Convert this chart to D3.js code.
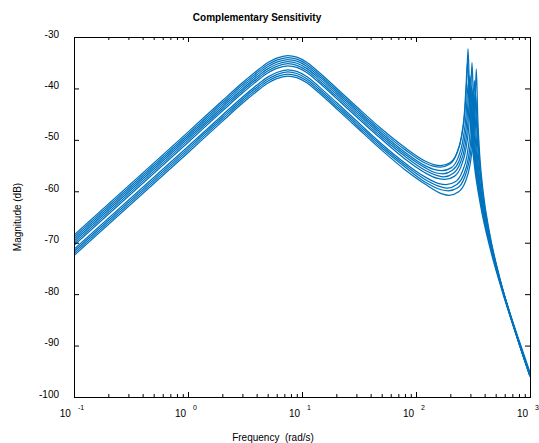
<!DOCTYPE html>
<html>
<head>
<meta charset="utf-8">
<script src="https://cdn.jsdelivr.net/npm/d3@7"></script>
<style>
  html, body { margin: 0; padding: 0; background: #fff; }
  svg { display: block; }
  text { font-family: "Liberation Sans", Arial, Helvetica, sans-serif; fill: #000; }
</style>
</head>
<body>
<svg id="chart" width="539" height="443"></svg>
<script>
// ---------------- data ----------------
const titleText = "Complementary Sensitivity";
const xLabelText = "Frequency  (rad/s)";
const yLabelText = "Magnitude (dB)";

const xMajorTicks = [0.1, 1, 10, 100, 1000];
const xTickExponents = ["-1", "0", "1", "2", "3"];
const yTicks = [-100, -90, -80, -70, -60, -50, -40, -30];

// shared low-frequency grid (rad/s)
const lowFreqs = [0.1, 1, 2, 3, 4, 5, 6, 7.5, 9, 11, 14, 20, 30, 50, 80, 120];

// magnitudes (dB) on lowFreqs, one array per response
const lowMag1  = [-68.5, -48.5, -42.4, -38.9, -36.6, -35.0, -34.1, -33.6, -33.9, -34.9, -36.8, -39.9, -43.5, -47.9, -51.5, -54.1];
const lowMag2  = [-68.9, -48.9, -42.8, -39.3, -37.0, -35.4, -34.5, -34.0, -34.3, -35.3, -37.2, -40.3, -43.9, -48.3, -51.9, -54.5];
const lowMag3  = [-69.3, -49.3, -43.2, -39.7, -37.4, -35.8, -34.9, -34.4, -34.7, -35.7, -37.6, -40.7, -44.3, -48.7, -52.4, -55.0];
const lowMag4  = [-69.7, -49.7, -43.6, -40.1, -37.8, -36.2, -35.3, -34.8, -35.1, -36.1, -38.0, -41.1, -44.7, -49.1, -52.8, -55.4];
const lowMag5  = [-70.1, -50.1, -44.0, -40.5, -38.2, -36.6, -35.7, -35.2, -35.5, -36.5, -38.4, -41.5, -45.1, -49.5, -53.2, -55.9];
const lowMag6  = [-70.5, -50.5, -44.4, -40.9, -38.6, -37.0, -36.1, -35.6, -35.9, -36.9, -38.8, -41.9, -45.5, -49.9, -53.7, -56.4];
const lowMag7  = [-71.3, -51.3, -45.2, -41.7, -39.4, -37.8, -36.9, -36.4, -36.7, -37.7, -39.6, -42.7, -46.3, -50.8, -54.5, -57.2];
const lowMag8  = [-71.7, -51.7, -45.6, -42.1, -39.8, -38.2, -37.3, -36.8, -37.1, -38.1, -40.0, -43.1, -46.7, -51.2, -54.9, -57.7];
const lowMag9  = [-72.1, -52.1, -46.0, -42.5, -40.2, -38.6, -37.7, -37.2, -37.5, -38.5, -40.4, -43.5, -47.1, -51.6, -55.3, -58.2];
const lowMag10 = [-72.5, -52.5, -46.4, -42.9, -40.6, -39.0, -38.1, -37.6, -37.9, -38.9, -40.8, -43.9, -47.5, -52.0, -55.8, -58.6];

// high-frequency (dip + resonance + roll-off) points, per response
const resFreq1  = [143, 165, 200.2, 228.8, 251.7, 268.8, 277.4, 286, 294.6, 306, 328.9, 371.8, 457.6, 572, 800, 1000];
const resMag1   = [-54.8, -55.0, -54.4, -52.5, -49.3, -44.4, -39.4, -32.3, -40.3, -47.3, -54.7, -62.4, -71.3, -78.9, -88.9, -95.2];
const resFreq2  = [141.5, 163.3, 198.1, 226.4, 249, 266, 274.5, 283, 291.5, 302.8, 325.5, 367.9, 452.8, 566, 800, 1000];
const resMag2   = [-55.1, -55.3, -54.7, -52.8, -49.6, -44.7, -39.7, -34.9, -40.6, -47.6, -55.0, -62.7, -71.6, -79.2, -89.5, -95.8];
const resFreq3  = [146, 168.5, 204.4, 233.6, 257, 274.5, 283.2, 292, 300.8, 312.4, 335.8, 379.6, 467.2, 584, 800, 1000];
const resMag3   = [-55.8, -56.0, -55.4, -53.5, -50.3, -45.3, -40.4, -38.5, -41.3, -48.3, -55.7, -63.4, -72.2, -79.9, -89.3, -95.6];
const resFreq4  = [149, 172, 208.6, 238.4, 262.2, 280.1, 289.1, 298, 306.9, 318.9, 342.7, 387.4, 476.8, 596, 800, 1000];
const resMag4   = [-56.4, -56.6, -55.9, -54.1, -50.9, -45.9, -41.0, -37.5, -41.8, -48.9, -56.3, -63.9, -72.8, -80.4, -89.3, -95.6];
const resFreq5  = [152, 175.4, 212.8, 243.2, 267.5, 285.8, 294.9, 304, 313.1, 325.3, 349.6, 395.2, 486.4, 608, 800, 1000];
const resMag5   = [-56.9, -57.2, -56.5, -54.6, -51.5, -46.5, -41.6, -39.5, -42.4, -49.5, -56.8, -64.5, -73.4, -81.0, -89.3, -95.6];
const resFreq6  = [155, 178.9, 217, 248, 272.8, 291.4, 300.7, 310, 319.3, 331.7, 356.5, 403, 496, 620, 800, 1000];
const resMag6   = [-57.5, -57.7, -57.1, -55.2, -52.0, -47.1, -42.1, -35.0, -43.0, -50.0, -57.4, -65.1, -74.0, -81.6, -89.3, -95.7];
const resFreq7  = [159, 183.5, 222.6, 254.4, 279.8, 298.9, 308.5, 318, 327.5, 340.3, 365.7, 413.4, 508.8, 636, 800, 1000];
const resMag7   = [-58.5, -58.7, -58.1, -56.2, -53.1, -48.1, -43.2, -40.0, -44.0, -51.1, -58.4, -66.1, -75.0, -82.6, -89.6, -96.0];
const resFreq8  = [163, 188.1, 228.2, 260.8, 286.9, 306.4, 316.2, 326, 335.8, 348.8, 374.9, 423.8, 521.6, 652, 800, 1000];
const resMag8   = [-59.1, -59.4, -58.7, -56.9, -53.7, -48.7, -43.8, -38.5, -44.6, -51.7, -59.0, -66.7, -75.6, -83.2, -89.5, -95.9];
const resFreq9  = [166, 191.6, 232.4, 265.6, 292.2, 312.1, 322, 332, 342, 355.2, 381.8, 431.6, 531.2, 664, 800, 1000];
const resMag9   = [-59.7, -59.9, -59.3, -57.4, -54.2, -49.3, -44.3, -41.0, -45.2, -52.2, -59.6, -67.3, -76.2, -83.8, -89.5, -95.9];
const resFreq10 = [169, 195, 236.6, 270.4, 297.4, 317.7, 327.9, 338, 348.1, 361.7, 388.7, 439.4, 540.8, 676, 800, 1000];
const resMag10  = [-60.5, -60.8, -60.1, -58.2, -54.9, -49.8, -44.9, -36.2, -45.7, -52.8, -60.2, -67.8, -76.7, -84.3, -89.5, -96.0];

const lowMags = [lowMag1, lowMag2, lowMag3, lowMag4, lowMag5, lowMag6, lowMag7, lowMag8, lowMag9, lowMag10];
const resFreqs = [resFreq1, resFreq2, resFreq3, resFreq4, resFreq5, resFreq6, resFreq7, resFreq8, resFreq9, resFreq10];
const resMags = [resMag1, resMag2, resMag3, resMag4, resMag5, resMag6, resMag7, resMag8, resMag9, resMag10];

// ---------------- drawing ----------------
(function () {
const svg = d3.select("#chart");
const pL = 74, pR = 530, pT = 37, pB = 397;
const lineColor = "#0072BD";

const x = d3.scaleLog().domain([0.1, 1000]).range([pL, pR]);
const y = d3.scaleLinear().domain([-100, -30]).range([pB, pT]);

svg.append("rect").attr("width", 539).attr("height", 443).attr("fill", "#fff");

svg.append("defs").append("clipPath").attr("id", "clip")
  .append("rect").attr("x", pL).attr("y", pT)
  .attr("width", pR - pL).attr("height", pB - pT);

// responses
const line = d3.line()
  .x(d => x(d[0]))
  .y(d => y(d[1]))
  .curve(d3.curveMonotoneX);

const series = lowMags.map((lm, i) => {
  const pts = lowFreqs.map((f, j) => [f, lm[j]]);
  resFreqs[i].forEach((f, j) => pts.push([f, resMags[i][j]]));
  return pts;
});

svg.append("g").attr("clip-path", "url(#clip)")
  .selectAll("path").data(series).join("path")
  .attr("d", line)
  .attr("fill", "none")
  .attr("stroke", lineColor)
  .attr("stroke-width", 1.25);

// minor ticks for log axis
const xMinorTicks = [];
for (let e = -1; e < 3; e++) {
  for (let k = 2; k <= 9; k++) xMinorTicks.push(k * Math.pow(10, e));
}

function styleAxis(g) {
  g.select(".domain").remove();
  g.selectAll("line").attr("stroke", "#000");
}

svg.append("g").attr("transform", `translate(0,${pB})`)
  .call(d3.axisBottom(x).tickValues(xMajorTicks).tickSize(-5).tickFormat(""))
  .call(styleAxis);
svg.append("g").attr("transform", `translate(0,${pB})`)
  .call(d3.axisBottom(x).tickValues(xMinorTicks).tickSize(-3).tickFormat(""))
  .call(styleAxis);
svg.append("g").attr("transform", `translate(0,${pT})`)
  .call(d3.axisTop(x).tickValues(xMajorTicks).tickSize(-5).tickFormat(""))
  .call(styleAxis);
svg.append("g").attr("transform", `translate(0,${pT})`)
  .call(d3.axisTop(x).tickValues(xMinorTicks).tickSize(-3).tickFormat(""))
  .call(styleAxis);
svg.append("g").attr("transform", `translate(${pL},0)`)
  .call(d3.axisLeft(y).tickValues(yTicks).tickSize(-5).tickFormat(""))
  .call(styleAxis);
svg.append("g").attr("transform", `translate(${pR},0)`)
  .call(d3.axisRight(y).tickValues(yTicks).tickSize(-5).tickFormat(""))
  .call(styleAxis);

// frame
svg.append("rect")
  .attr("x", pL + 0.5).attr("y", pT + 0.5)
  .attr("width", pR - pL).attr("height", pB - pT)
  .attr("fill", "none").attr("stroke", "#000").attr("stroke-width", 1);

// y tick labels
svg.append("g").selectAll("text").data(yTicks).join("text")
  .attr("x", pL - 15)
  .attr("y", d => y(d) + 0.5)
  .attr("text-anchor", "end")
  .attr("font-size", 10)
  .text(d => d);

// x tick labels "10" with superscript exponent
const xl = svg.append("g").selectAll("text").data(xMajorTicks).join("text")
  .attr("x", d => x(d) - 2)
  .attr("y", 416.5)
  .attr("text-anchor", "middle")
  .attr("font-size", 10);
xl.append("tspan").text("10");
xl.append("tspan")
  .attr("dx", 7).attr("dy", -7)
  .attr("font-size", 7)
  .text((d, i) => xTickExponents[i]);

// title & axis labels
svg.append("text")
  .attr("x", 257).attr("y", 20.5)
  .attr("text-anchor", "middle")
  .attr("font-size", 10).attr("font-weight", "bold")
  .text(titleText);

svg.append("text")
  .attr("x", 273).attr("y", 440.5)
  .attr("text-anchor", "middle")
  .attr("font-size", 10)
  .style("white-space", "pre")
  .text(xLabelText);

svg.append("text")
  .attr("transform", `translate(20.5,${(pT + pB) / 2}) rotate(-90)`)
  .attr("text-anchor", "middle")
  .attr("font-size", 10)
  .text(yLabelText);
})();
</script>
</body>
</html>
